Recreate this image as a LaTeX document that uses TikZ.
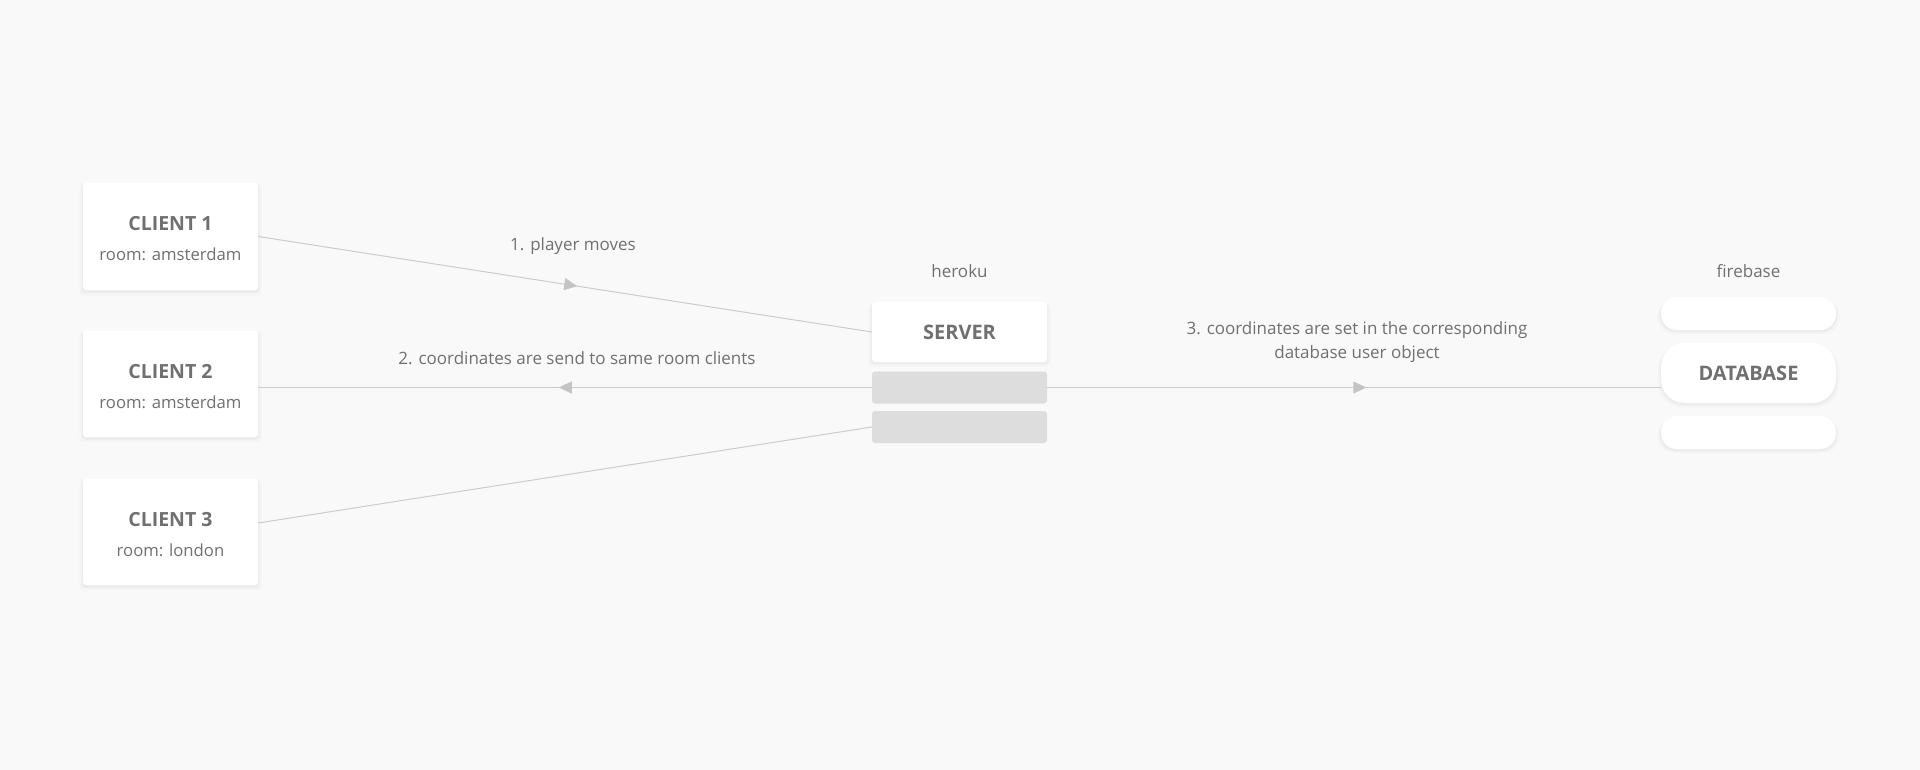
\documentclass[tikz,border=0pt]{standalone}
\usepackage{fontspec}
\setmainfont{Open Sans}
\usetikzlibrary{arrows.meta,decorations.markings,shadows}
\definecolor{bg}{HTML}{F9F9F9}
\definecolor{txt}{HTML}{707070}
\definecolor{ln}{HTML}{CCCCCC}
\definecolor{tip}{HTML}{C4C4C4}
\definecolor{slot}{HTML}{DDDDDD}
\tikzset{
  softshadow/.style={
    general shadow={fill=black, opacity=0.02, shadow yshift=-3pt, shadow scale=1.04},
    general shadow={fill=black, opacity=0.03, shadow yshift=-2pt, shadow scale=1.015}},
  card/.style={fill=white, rounded corners=3pt, minimum width=175pt, inner sep=0pt,
    softshadow, text=txt, align=center, font=\fontsize{16.7}{30}\selectfont},
  slotbox/.style={fill=slot, rounded corners=3pt, minimum width=175pt, minimum height=32pt, inner sep=0pt},
  pill/.style={fill=white, minimum width=175pt, inner sep=0pt,
    softshadow, text=txt, font=\fontsize{20}{24}\selectfont\bfseries},
  lbl/.style={text=txt, align=center, font=\fontsize{17}{24.5}\selectfont},
  conn/.style={draw=ln, line width=1pt},
  midarrow/.style={postaction={decorate}, decoration={markings,
    mark=at position #1 with {\arrow[tip]{Triangle[length=13pt,width=12pt]}}}}
}
\newcommand{\ttl}[1]{\rule{0pt}{19pt}\textbf{\fontsize{19.5}{30}\selectfont #1}}
\begin{document}
\begin{tikzpicture}[x=1pt,y=-1pt]
\fill[bg] (0,0) rectangle (1920,770);
\useasboundingbox (0,0) rectangle (1920,770);

\node[card, minimum height=107pt] (c1) at (170.5,236.5) {\ttl{CLIENT 1}\\room: amsterdam};
\node[card, minimum height=106pt] (c2) at (170.5,384) {\ttl{CLIENT 2}\\room: amsterdam};
\node[card, minimum height=106pt] (c3) at (170.5,532) {\ttl{CLIENT 3}\\room: london};

\node[card, minimum height=60pt, font=\fontsize{20}{24}\selectfont\bfseries] (srv) at (959.5,332) {SERVER};
\node[slotbox] (g1) at (959.5,387.5) {};
\node[slotbox] (g2) at (959.5,427) {};
\node[lbl] (heroku) at (959.5,271) {heroku};

\node[pill, minimum height=33pt, rounded corners=16pt] (dbtop) at (1748.5,313.5) {};
\node[pill, minimum height=60pt, rounded corners=24pt] (db) at (1748.5,373) {DATABASE};
\node[pill, minimum height=33pt, rounded corners=16pt] (dbbot) at (1748.5,432.5) {};
\node[lbl] (firebase) at (1748.5,271) {firebase};

\draw[conn, midarrow=0.52] (c1.east) -- (srv.west);
\draw[conn, midarrow=0.51] (g1.west) -- (g1.west -| c2.east);
\draw[conn] (c3.east) ++(0,-9) -- (g2.west);
\draw[conn, midarrow=0.52] (g1.east) -- (g1.east -| db.west);

\node[lbl] (l1) at (573,246) {1. player moves};
\node[lbl] (l2) at (577,358) {2. coordinates are send to same room clients};
\node[lbl] (l3) at (1357,342) {3. coordinates are set in the corresponding\\database user object};
\end{tikzpicture}
\end{document}
